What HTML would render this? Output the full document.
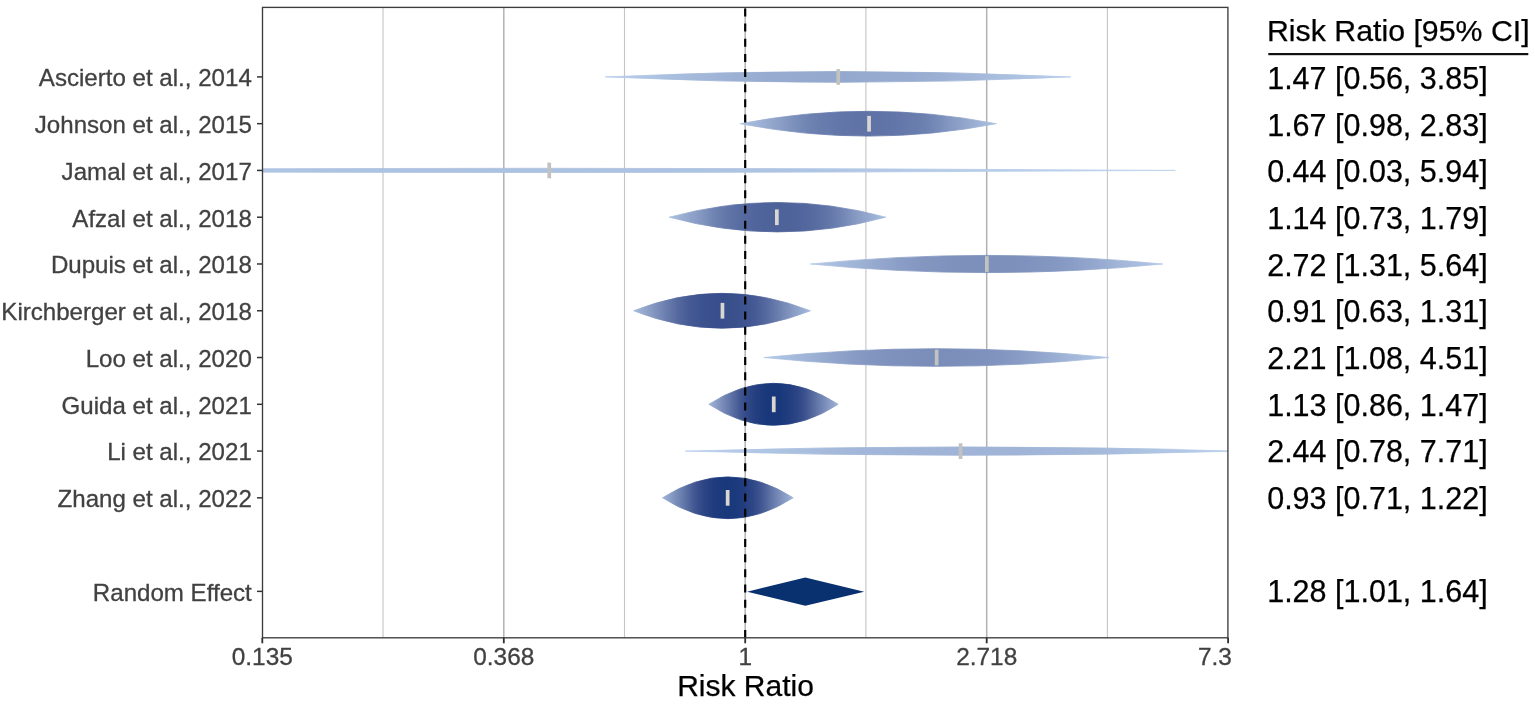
<!DOCTYPE html>
<html><head><meta charset="utf-8"><title>Forest plot</title>
<style>html,body{margin:0;padding:0;background:#fff;}svg{display:block;}text{font-family:"Liberation Sans",sans-serif;}</style></head><body>
<svg width="1535" height="705" viewBox="0 0 1535 705">
<rect width="1535" height="705" fill="#ffffff"/>
<defs>
<clipPath id="plot"><rect x="262.5" y="7.4" width="965.4000000000001" height="630.4"/></clipPath>
<linearGradient id="g0" gradientUnits="userSpaceOnUse" x1="605.2" y1="0" x2="1070.7" y2="0"><stop offset="0.0000" stop-color="#b8cfeb"/><stop offset="0.0312" stop-color="#b5cbe8"/><stop offset="0.0625" stop-color="#b2c8e6"/><stop offset="0.0938" stop-color="#afc5e3"/><stop offset="0.1250" stop-color="#acc1e1"/><stop offset="0.1562" stop-color="#a8bede"/><stop offset="0.1875" stop-color="#a5badb"/><stop offset="0.2188" stop-color="#a1b6d8"/><stop offset="0.2500" stop-color="#9eb3d6"/><stop offset="0.2812" stop-color="#9cb0d3"/><stop offset="0.3125" stop-color="#9aaed2"/><stop offset="0.3438" stop-color="#98acd2"/><stop offset="0.3750" stop-color="#97abd1"/><stop offset="0.4062" stop-color="#96aad0"/><stop offset="0.4375" stop-color="#95aacf"/><stop offset="0.4688" stop-color="#95a9cf"/><stop offset="0.5000" stop-color="#95a9cf"/><stop offset="0.5312" stop-color="#95a9cf"/><stop offset="0.5625" stop-color="#95aacf"/><stop offset="0.5938" stop-color="#96aad0"/><stop offset="0.6250" stop-color="#97abd1"/><stop offset="0.6562" stop-color="#98acd2"/><stop offset="0.6875" stop-color="#9aaed2"/><stop offset="0.7188" stop-color="#9cb0d3"/><stop offset="0.7500" stop-color="#9eb3d6"/><stop offset="0.7812" stop-color="#a1b6d8"/><stop offset="0.8125" stop-color="#a5badb"/><stop offset="0.8438" stop-color="#a8bede"/><stop offset="0.8750" stop-color="#acc1e1"/><stop offset="0.9062" stop-color="#afc5e3"/><stop offset="0.9375" stop-color="#b2c8e6"/><stop offset="0.9688" stop-color="#b5cbe8"/><stop offset="1.0000" stop-color="#b8cfeb"/></linearGradient>
<linearGradient id="g1" gradientUnits="userSpaceOnUse" x1="740.3" y1="0" x2="996.4" y2="0"><stop offset="0.0000" stop-color="#aec3e2"/><stop offset="0.0312" stop-color="#a7bcdd"/><stop offset="0.0625" stop-color="#a0b5d7"/><stop offset="0.0938" stop-color="#99add1"/><stop offset="0.1250" stop-color="#92a6cc"/><stop offset="0.1562" stop-color="#8a9ec6"/><stop offset="0.1875" stop-color="#8296c0"/><stop offset="0.2188" stop-color="#7a8ebb"/><stop offset="0.2500" stop-color="#7387b5"/><stop offset="0.2812" stop-color="#6d81b1"/><stop offset="0.3125" stop-color="#697dad"/><stop offset="0.3438" stop-color="#667aac"/><stop offset="0.3750" stop-color="#6377aa"/><stop offset="0.4062" stop-color="#6175a8"/><stop offset="0.4375" stop-color="#6074a7"/><stop offset="0.4688" stop-color="#5f73a7"/><stop offset="0.5000" stop-color="#5f73a6"/><stop offset="0.5312" stop-color="#5f73a7"/><stop offset="0.5625" stop-color="#6074a7"/><stop offset="0.5938" stop-color="#6175a8"/><stop offset="0.6250" stop-color="#6377aa"/><stop offset="0.6562" stop-color="#667aac"/><stop offset="0.6875" stop-color="#697dad"/><stop offset="0.7188" stop-color="#6d81b1"/><stop offset="0.7500" stop-color="#7387b5"/><stop offset="0.7812" stop-color="#7a8ebb"/><stop offset="0.8125" stop-color="#8296c0"/><stop offset="0.8438" stop-color="#8a9ec6"/><stop offset="0.8750" stop-color="#92a6cc"/><stop offset="0.9062" stop-color="#99add1"/><stop offset="0.9375" stop-color="#a0b5d7"/><stop offset="0.9688" stop-color="#a7bcdd"/><stop offset="1.0000" stop-color="#aec3e2"/></linearGradient>
<linearGradient id="g2" gradientUnits="userSpaceOnUse" x1="-101.5" y1="0" x2="1175.4" y2="0"><stop offset="0.0000" stop-color="#bdd4ef"/><stop offset="0.0312" stop-color="#bcd2ee"/><stop offset="0.0625" stop-color="#bad1ec"/><stop offset="0.0938" stop-color="#b9cfeb"/><stop offset="0.1250" stop-color="#b7cdea"/><stop offset="0.1562" stop-color="#b6cce9"/><stop offset="0.1875" stop-color="#b4cae7"/><stop offset="0.2188" stop-color="#b2c8e6"/><stop offset="0.2500" stop-color="#b1c7e5"/><stop offset="0.2812" stop-color="#afc5e4"/><stop offset="0.3125" stop-color="#afc4e3"/><stop offset="0.3438" stop-color="#aec3e2"/><stop offset="0.3750" stop-color="#adc3e2"/><stop offset="0.4062" stop-color="#adc2e2"/><stop offset="0.4375" stop-color="#adc2e1"/><stop offset="0.4688" stop-color="#acc2e1"/><stop offset="0.5000" stop-color="#acc2e1"/><stop offset="0.5312" stop-color="#acc2e1"/><stop offset="0.5625" stop-color="#adc2e1"/><stop offset="0.5938" stop-color="#adc2e2"/><stop offset="0.6250" stop-color="#adc3e2"/><stop offset="0.6562" stop-color="#aec3e2"/><stop offset="0.6875" stop-color="#afc4e3"/><stop offset="0.7188" stop-color="#afc5e4"/><stop offset="0.7500" stop-color="#b1c7e5"/><stop offset="0.7812" stop-color="#b2c8e6"/><stop offset="0.8125" stop-color="#b4cae7"/><stop offset="0.8438" stop-color="#b6cce9"/><stop offset="0.8750" stop-color="#b7cdea"/><stop offset="0.9062" stop-color="#b9cfeb"/><stop offset="0.9375" stop-color="#bad1ec"/><stop offset="0.9688" stop-color="#bcd2ee"/><stop offset="1.0000" stop-color="#bdd4ef"/></linearGradient>
<linearGradient id="g3" gradientUnits="userSpaceOnUse" x1="669.2" y1="0" x2="885.8" y2="0"><stop offset="0.0000" stop-color="#aac0df"/><stop offset="0.0312" stop-color="#a2b7d9"/><stop offset="0.0625" stop-color="#9aaed2"/><stop offset="0.0938" stop-color="#91a5cc"/><stop offset="0.1250" stop-color="#899dc6"/><stop offset="0.1562" stop-color="#8094be"/><stop offset="0.1875" stop-color="#768ab8"/><stop offset="0.2188" stop-color="#6d81b1"/><stop offset="0.2500" stop-color="#6579ab"/><stop offset="0.2812" stop-color="#5f73a6"/><stop offset="0.3125" stop-color="#596ea2"/><stop offset="0.3438" stop-color="#566a9f"/><stop offset="0.3750" stop-color="#53679e"/><stop offset="0.4062" stop-color="#50659c"/><stop offset="0.4375" stop-color="#4f639b"/><stop offset="0.4688" stop-color="#4e639a"/><stop offset="0.5000" stop-color="#4e629a"/><stop offset="0.5312" stop-color="#4e639a"/><stop offset="0.5625" stop-color="#4f639b"/><stop offset="0.5938" stop-color="#50659c"/><stop offset="0.6250" stop-color="#53679e"/><stop offset="0.6562" stop-color="#566a9f"/><stop offset="0.6875" stop-color="#596ea2"/><stop offset="0.7188" stop-color="#5f73a6"/><stop offset="0.7500" stop-color="#6579ab"/><stop offset="0.7812" stop-color="#6d81b1"/><stop offset="0.8125" stop-color="#768ab8"/><stop offset="0.8438" stop-color="#8094be"/><stop offset="0.8750" stop-color="#899dc6"/><stop offset="0.9062" stop-color="#91a5cc"/><stop offset="0.9375" stop-color="#9aaed2"/><stop offset="0.9688" stop-color="#a2b7d9"/><stop offset="1.0000" stop-color="#aac0df"/></linearGradient>
<linearGradient id="g4" gradientUnits="userSpaceOnUse" x1="810.4" y1="0" x2="1162.9" y2="0"><stop offset="0.0000" stop-color="#b4cae7"/><stop offset="0.0312" stop-color="#afc4e3"/><stop offset="0.0625" stop-color="#aabfdf"/><stop offset="0.0938" stop-color="#a5badb"/><stop offset="0.1250" stop-color="#a0b5d7"/><stop offset="0.1562" stop-color="#9bafd3"/><stop offset="0.1875" stop-color="#95a9cf"/><stop offset="0.2188" stop-color="#90a4cb"/><stop offset="0.2500" stop-color="#8b9ec7"/><stop offset="0.2812" stop-color="#879ac3"/><stop offset="0.3125" stop-color="#8497c1"/><stop offset="0.3438" stop-color="#8195bf"/><stop offset="0.3750" stop-color="#8093be"/><stop offset="0.4062" stop-color="#7e91bc"/><stop offset="0.4375" stop-color="#7d90bc"/><stop offset="0.4688" stop-color="#7d90bb"/><stop offset="0.5000" stop-color="#7c90bb"/><stop offset="0.5312" stop-color="#7d90bb"/><stop offset="0.5625" stop-color="#7d90bc"/><stop offset="0.5938" stop-color="#7e91bc"/><stop offset="0.6250" stop-color="#8093be"/><stop offset="0.6562" stop-color="#8195bf"/><stop offset="0.6875" stop-color="#8497c1"/><stop offset="0.7188" stop-color="#879ac3"/><stop offset="0.7500" stop-color="#8b9ec7"/><stop offset="0.7812" stop-color="#90a4cb"/><stop offset="0.8125" stop-color="#95a9cf"/><stop offset="0.8438" stop-color="#9bafd3"/><stop offset="0.8750" stop-color="#a0b5d7"/><stop offset="0.9062" stop-color="#a5badb"/><stop offset="0.9375" stop-color="#aabfdf"/><stop offset="0.9688" stop-color="#afc4e3"/><stop offset="1.0000" stop-color="#b4cae7"/></linearGradient>
<linearGradient id="g5" gradientUnits="userSpaceOnUse" x1="633.6" y1="0" x2="810.4" y2="0"><stop offset="0.0000" stop-color="#a6bbdc"/><stop offset="0.0312" stop-color="#9cb1d4"/><stop offset="0.0625" stop-color="#93a7cd"/><stop offset="0.0938" stop-color="#899dc5"/><stop offset="0.1250" stop-color="#7f92bd"/><stop offset="0.1562" stop-color="#7488b6"/><stop offset="0.1875" stop-color="#697dad"/><stop offset="0.2188" stop-color="#5f73a6"/><stop offset="0.2500" stop-color="#5569a0"/><stop offset="0.2812" stop-color="#4d6299"/><stop offset="0.3125" stop-color="#465b96"/><stop offset="0.3438" stop-color="#425792"/><stop offset="0.3750" stop-color="#3e5490"/><stop offset="0.4062" stop-color="#3b518d"/><stop offset="0.4375" stop-color="#39508c"/><stop offset="0.4688" stop-color="#384f8d"/><stop offset="0.5000" stop-color="#384e8c"/><stop offset="0.5312" stop-color="#384f8d"/><stop offset="0.5625" stop-color="#39508c"/><stop offset="0.5938" stop-color="#3b518d"/><stop offset="0.6250" stop-color="#3e5490"/><stop offset="0.6562" stop-color="#425792"/><stop offset="0.6875" stop-color="#465b96"/><stop offset="0.7188" stop-color="#4d6299"/><stop offset="0.7500" stop-color="#5569a0"/><stop offset="0.7812" stop-color="#5f73a6"/><stop offset="0.8125" stop-color="#697dad"/><stop offset="0.8438" stop-color="#7488b6"/><stop offset="0.8750" stop-color="#7f92bd"/><stop offset="0.9062" stop-color="#899dc5"/><stop offset="0.9375" stop-color="#93a7cd"/><stop offset="0.9688" stop-color="#9cb1d4"/><stop offset="1.0000" stop-color="#a6bbdc"/></linearGradient>
<linearGradient id="g6" gradientUnits="userSpaceOnUse" x1="763.8" y1="0" x2="1108.9" y2="0"><stop offset="0.0000" stop-color="#b3c9e7"/><stop offset="0.0312" stop-color="#aec4e3"/><stop offset="0.0625" stop-color="#a9bfdf"/><stop offset="0.0938" stop-color="#a4b9da"/><stop offset="0.1250" stop-color="#9fb4d6"/><stop offset="0.1562" stop-color="#9aaed2"/><stop offset="0.1875" stop-color="#94a8ce"/><stop offset="0.2188" stop-color="#8fa2ca"/><stop offset="0.2500" stop-color="#899dc6"/><stop offset="0.2812" stop-color="#8599c2"/><stop offset="0.3125" stop-color="#8295c0"/><stop offset="0.3438" stop-color="#8093be"/><stop offset="0.3750" stop-color="#7e91bc"/><stop offset="0.4062" stop-color="#7c90bb"/><stop offset="0.4375" stop-color="#7c8fba"/><stop offset="0.4688" stop-color="#7b8eba"/><stop offset="0.5000" stop-color="#7a8ebb"/><stop offset="0.5312" stop-color="#7b8eba"/><stop offset="0.5625" stop-color="#7c8fba"/><stop offset="0.5938" stop-color="#7c90bb"/><stop offset="0.6250" stop-color="#7e91bc"/><stop offset="0.6562" stop-color="#8093be"/><stop offset="0.6875" stop-color="#8295c0"/><stop offset="0.7188" stop-color="#8599c2"/><stop offset="0.7500" stop-color="#899dc6"/><stop offset="0.7812" stop-color="#8fa2ca"/><stop offset="0.8125" stop-color="#94a8ce"/><stop offset="0.8438" stop-color="#9aaed2"/><stop offset="0.8750" stop-color="#9fb4d6"/><stop offset="0.9062" stop-color="#a4b9da"/><stop offset="0.9375" stop-color="#a9bfdf"/><stop offset="0.9688" stop-color="#aec4e3"/><stop offset="1.0000" stop-color="#b3c9e7"/></linearGradient>
<linearGradient id="g7" gradientUnits="userSpaceOnUse" x1="708.8" y1="0" x2="838.2" y2="0"><stop offset="0.0000" stop-color="#a1b5d8"/><stop offset="0.0312" stop-color="#95a9cf"/><stop offset="0.0625" stop-color="#899dc6"/><stop offset="0.0938" stop-color="#7e91bc"/><stop offset="0.1250" stop-color="#7185b4"/><stop offset="0.1562" stop-color="#6579ab"/><stop offset="0.1875" stop-color="#586ca1"/><stop offset="0.2188" stop-color="#4c6198"/><stop offset="0.2500" stop-color="#3f5591"/><stop offset="0.2812" stop-color="#354c8a"/><stop offset="0.3125" stop-color="#2d4685"/><stop offset="0.3438" stop-color="#274182"/><stop offset="0.3750" stop-color="#223e7f"/><stop offset="0.4062" stop-color="#1d3b7d"/><stop offset="0.4375" stop-color="#1a397c"/><stop offset="0.4688" stop-color="#19387b"/><stop offset="0.5000" stop-color="#18387b"/><stop offset="0.5312" stop-color="#19387b"/><stop offset="0.5625" stop-color="#1a397c"/><stop offset="0.5938" stop-color="#1d3b7d"/><stop offset="0.6250" stop-color="#223e7f"/><stop offset="0.6562" stop-color="#274182"/><stop offset="0.6875" stop-color="#2d4685"/><stop offset="0.7188" stop-color="#354c8a"/><stop offset="0.7500" stop-color="#3f5591"/><stop offset="0.7812" stop-color="#4c6198"/><stop offset="0.8125" stop-color="#586ca1"/><stop offset="0.8438" stop-color="#6579ab"/><stop offset="0.8750" stop-color="#7185b4"/><stop offset="0.9062" stop-color="#7e91bc"/><stop offset="0.9375" stop-color="#899dc6"/><stop offset="0.9688" stop-color="#95a9cf"/><stop offset="1.0000" stop-color="#a1b5d8"/></linearGradient>
<linearGradient id="g8" gradientUnits="userSpaceOnUse" x1="685.2" y1="0" x2="1238.4" y2="0"><stop offset="0.0000" stop-color="#bad1ed"/><stop offset="0.0312" stop-color="#b8ceeb"/><stop offset="0.0625" stop-color="#b6cce9"/><stop offset="0.0938" stop-color="#b3c9e7"/><stop offset="0.1250" stop-color="#b1c6e5"/><stop offset="0.1562" stop-color="#aec4e3"/><stop offset="0.1875" stop-color="#abc1e0"/><stop offset="0.2188" stop-color="#a9bede"/><stop offset="0.2500" stop-color="#a6bbdc"/><stop offset="0.2812" stop-color="#a4b9da"/><stop offset="0.3125" stop-color="#a2b7d9"/><stop offset="0.3438" stop-color="#a1b6d8"/><stop offset="0.3750" stop-color="#a0b5d7"/><stop offset="0.4062" stop-color="#a0b4d7"/><stop offset="0.4375" stop-color="#9fb4d6"/><stop offset="0.4688" stop-color="#9fb4d6"/><stop offset="0.5000" stop-color="#9fb4d6"/><stop offset="0.5312" stop-color="#9fb4d6"/><stop offset="0.5625" stop-color="#9fb4d6"/><stop offset="0.5938" stop-color="#a0b4d7"/><stop offset="0.6250" stop-color="#a0b5d7"/><stop offset="0.6562" stop-color="#a1b6d8"/><stop offset="0.6875" stop-color="#a2b7d9"/><stop offset="0.7188" stop-color="#a4b9da"/><stop offset="0.7500" stop-color="#a6bbdc"/><stop offset="0.7812" stop-color="#a9bede"/><stop offset="0.8125" stop-color="#abc1e0"/><stop offset="0.8438" stop-color="#aec4e3"/><stop offset="0.8750" stop-color="#b1c6e5"/><stop offset="0.9062" stop-color="#b3c9e7"/><stop offset="0.9375" stop-color="#b6cce9"/><stop offset="0.9688" stop-color="#b8ceeb"/><stop offset="1.0000" stop-color="#bad1ed"/></linearGradient>
<linearGradient id="g9" gradientUnits="userSpaceOnUse" x1="662.5" y1="0" x2="793.2" y2="0"><stop offset="0.0000" stop-color="#a1b6d8"/><stop offset="0.0312" stop-color="#95a9cf"/><stop offset="0.0625" stop-color="#8a9dc6"/><stop offset="0.0938" stop-color="#7e91bd"/><stop offset="0.1250" stop-color="#7286b4"/><stop offset="0.1562" stop-color="#6579ac"/><stop offset="0.1875" stop-color="#586da1"/><stop offset="0.2188" stop-color="#4c6199"/><stop offset="0.2500" stop-color="#405591"/><stop offset="0.2812" stop-color="#364d8b"/><stop offset="0.3125" stop-color="#2e4685"/><stop offset="0.3438" stop-color="#284283"/><stop offset="0.3750" stop-color="#233e7f"/><stop offset="0.4062" stop-color="#1e3b7e"/><stop offset="0.4375" stop-color="#1b3a7c"/><stop offset="0.4688" stop-color="#1a397c"/><stop offset="0.5000" stop-color="#19387b"/><stop offset="0.5312" stop-color="#1a397c"/><stop offset="0.5625" stop-color="#1b3a7c"/><stop offset="0.5938" stop-color="#1e3b7e"/><stop offset="0.6250" stop-color="#233e7f"/><stop offset="0.6562" stop-color="#284283"/><stop offset="0.6875" stop-color="#2e4685"/><stop offset="0.7188" stop-color="#364d8b"/><stop offset="0.7500" stop-color="#405591"/><stop offset="0.7812" stop-color="#4c6199"/><stop offset="0.8125" stop-color="#586da1"/><stop offset="0.8438" stop-color="#6579ac"/><stop offset="0.8750" stop-color="#7286b4"/><stop offset="0.9062" stop-color="#7e91bd"/><stop offset="0.9375" stop-color="#8a9dc6"/><stop offset="0.9688" stop-color="#95a9cf"/><stop offset="1.0000" stop-color="#a1b6d8"/></linearGradient>
</defs>
<line x1="383.0" y1="7.4" x2="383.0" y2="637.8" stroke="#c4c4c4" stroke-width="1.1"/>
<line x1="503.8" y1="7.4" x2="503.8" y2="637.8" stroke="#b2b2b2" stroke-width="1.5"/>
<line x1="624.5" y1="7.4" x2="624.5" y2="637.8" stroke="#c4c4c4" stroke-width="1.1"/>
<line x1="745.2" y1="7.4" x2="745.2" y2="637.8" stroke="#b2b2b2" stroke-width="1.5"/>
<line x1="865.9" y1="7.4" x2="865.9" y2="637.8" stroke="#c4c4c4" stroke-width="1.1"/>
<line x1="986.7" y1="7.4" x2="986.7" y2="637.8" stroke="#b2b2b2" stroke-width="1.5"/>
<line x1="1107.4" y1="7.4" x2="1107.4" y2="637.8" stroke="#c4c4c4" stroke-width="1.1"/>
<g clip-path="url(#plot)">
<path d="M605.2 76.9 Q837.9 66.0 1070.7 76.9 Q837.9 87.8 605.2 76.9Z" fill="url(#g0)" stroke="url(#g0)" stroke-width="0.8" stroke-linejoin="round"/>
<rect x="836.4" y="69.1" width="3.7" height="15.7" fill="#c2c2c0"/>
<path d="M740.3 123.7 Q868.3 98.9 996.4 123.7 Q868.3 148.5 740.3 123.7Z" fill="url(#g1)" stroke="url(#g1)" stroke-width="0.8" stroke-linejoin="round"/>
<rect x="867.2" y="115.9" width="3.7" height="15.7" fill="#d8d6d1"/>
<path d="M-101.5 170.4 Q537.0 166.1 1175.4 170.4 Q537.0 174.7 -101.5 170.4Z" fill="url(#g2)" stroke="url(#g2)" stroke-width="0.8" stroke-linejoin="round"/>
<rect x="547.4" y="162.6" width="3.7" height="15.7" fill="#c2c2c0"/>
<path d="M669.2 217.2 Q777.5 187.8 885.8 217.2 Q777.5 246.6 669.2 217.2Z" fill="url(#g3)" stroke="url(#g3)" stroke-width="0.8" stroke-linejoin="round"/>
<rect x="775.0" y="209.4" width="3.7" height="15.7" fill="#d8d6d1"/>
<path d="M810.4 264.0 Q986.6 246.8 1162.9 264.0 Q986.6 281.2 810.4 264.0Z" fill="url(#g4)" stroke="url(#g4)" stroke-width="0.8" stroke-linejoin="round"/>
<rect x="985.0" y="256.2" width="3.7" height="15.7" fill="#c2c2c0"/>
<path d="M633.6 310.8 Q722.0 275.9 810.4 310.8 Q722.0 345.6 633.6 310.8Z" fill="url(#g5)" stroke="url(#g5)" stroke-width="0.8" stroke-linejoin="round"/>
<rect x="720.6" y="302.9" width="3.7" height="15.7" fill="#d8d6d1"/>
<path d="M763.8 357.5 Q936.3 339.9 1108.9 357.5 Q936.3 375.2 763.8 357.5Z" fill="url(#g6)" stroke="url(#g6)" stroke-width="0.8" stroke-linejoin="round"/>
<rect x="934.8" y="349.7" width="3.7" height="15.7" fill="#c2c2c0"/>
<path d="M708.8 404.3 Q773.5 362.3 838.2 404.3 Q773.5 446.3 708.8 404.3Z" fill="url(#g7)" stroke="url(#g7)" stroke-width="0.8" stroke-linejoin="round"/>
<rect x="771.9" y="396.5" width="3.7" height="15.7" fill="#d8d6d1"/>
<path d="M685.2 451.1 Q961.8 442.7 1238.4 451.1 Q961.8 459.5 685.2 451.1Z" fill="url(#g8)" stroke="url(#g8)" stroke-width="0.8" stroke-linejoin="round"/>
<rect x="958.7" y="443.3" width="3.7" height="15.7" fill="#c2c2c0"/>
<path d="M662.5 497.8 Q727.9 456.0 793.2 497.8 Q727.9 539.6 662.5 497.8Z" fill="url(#g9)" stroke="url(#g9)" stroke-width="0.8" stroke-linejoin="round"/>
<rect x="725.8" y="490.0" width="3.7" height="15.7" fill="#d8d6d1"/>
</g>
<line x1="745.2" y1="8.4" x2="745.2" y2="637.8" stroke="#000" stroke-width="2.2" stroke-dasharray="8 7.16"/>
<polygon points="747.1,591.7 805.3,577.6 864.2,591.7 805.3,605.8000000000001" fill="#09306f"/>
<rect x="262.5" y="7.4" width="965.4000000000001" height="630.4" fill="none" stroke="#3d3d3d" stroke-width="1.35"/>
<line x1="257.0" y1="76.9" x2="262.5" y2="76.9" stroke="#333" stroke-width="1.5"/>
<text x="251.8" y="86.2" font-size="24.1" fill="#414141" stroke="#414141" stroke-width="0.3" text-anchor="end">Ascierto et al., 2014</text>
<line x1="257.0" y1="123.67000000000002" x2="262.5" y2="123.67000000000002" stroke="#333" stroke-width="1.5"/>
<text x="251.8" y="133.0" font-size="24.1" fill="#414141" stroke="#414141" stroke-width="0.3" text-anchor="end">Johnson et al., 2015</text>
<line x1="257.0" y1="170.44" x2="262.5" y2="170.44" stroke="#333" stroke-width="1.5"/>
<text x="251.8" y="179.7" font-size="24.1" fill="#414141" stroke="#414141" stroke-width="0.3" text-anchor="end">Jamal et al., 2017</text>
<line x1="257.0" y1="217.21" x2="262.5" y2="217.21" stroke="#333" stroke-width="1.5"/>
<text x="251.8" y="226.5" font-size="24.1" fill="#414141" stroke="#414141" stroke-width="0.3" text-anchor="end">Afzal et al., 2018</text>
<line x1="257.0" y1="263.98" x2="262.5" y2="263.98" stroke="#333" stroke-width="1.5"/>
<text x="251.8" y="273.3" font-size="24.1" fill="#414141" stroke="#414141" stroke-width="0.3" text-anchor="end">Dupuis et al., 2018</text>
<line x1="257.0" y1="310.75" x2="262.5" y2="310.75" stroke="#333" stroke-width="1.5"/>
<text x="251.8" y="320.1" font-size="24.1" fill="#414141" stroke="#414141" stroke-width="0.3" text-anchor="end">Kirchberger et al., 2018</text>
<line x1="257.0" y1="357.52" x2="262.5" y2="357.52" stroke="#333" stroke-width="1.5"/>
<text x="251.8" y="366.8" font-size="24.1" fill="#414141" stroke="#414141" stroke-width="0.3" text-anchor="end">Loo et al., 2020</text>
<line x1="257.0" y1="404.2900000000001" x2="262.5" y2="404.2900000000001" stroke="#333" stroke-width="1.5"/>
<text x="251.8" y="413.6" font-size="24.1" fill="#414141" stroke="#414141" stroke-width="0.3" text-anchor="end">Guida et al., 2021</text>
<line x1="257.0" y1="451.06000000000006" x2="262.5" y2="451.06000000000006" stroke="#333" stroke-width="1.5"/>
<text x="251.8" y="460.4" font-size="24.1" fill="#414141" stroke="#414141" stroke-width="0.3" text-anchor="end">Li et al., 2021</text>
<line x1="257.0" y1="497.83000000000004" x2="262.5" y2="497.83000000000004" stroke="#333" stroke-width="1.5"/>
<text x="251.8" y="507.1" font-size="24.1" fill="#414141" stroke="#414141" stroke-width="0.3" text-anchor="end">Zhang et al., 2022</text>
<line x1="257.0" y1="591.37" x2="262.5" y2="591.37" stroke="#333" stroke-width="1.5"/>
<text x="251.8" y="600.7" font-size="24.1" fill="#414141" stroke="#414141" stroke-width="0.3" text-anchor="end">Random Effect</text>
<line x1="262.3" y1="637.8" x2="262.3" y2="643.3" stroke="#2e2e2e" stroke-width="1.8"/>
<text x="262.3" y="664.8" font-size="24.4" fill="#414141" stroke="#414141" stroke-width="0.3" text-anchor="middle">0.135</text>
<line x1="503.8" y1="637.8" x2="503.8" y2="643.3" stroke="#2e2e2e" stroke-width="1.8"/>
<text x="503.8" y="664.8" font-size="24.4" fill="#414141" stroke="#414141" stroke-width="0.3" text-anchor="middle">0.368</text>
<line x1="745.2" y1="637.8" x2="745.2" y2="643.3" stroke="#2e2e2e" stroke-width="1.8"/>
<text x="745.2" y="664.8" font-size="24.4" fill="#414141" stroke="#414141" stroke-width="0.3" text-anchor="middle">1</text>
<line x1="986.7" y1="637.8" x2="986.7" y2="643.3" stroke="#2e2e2e" stroke-width="1.8"/>
<text x="986.7" y="664.8" font-size="24.4" fill="#414141" stroke="#414141" stroke-width="0.3" text-anchor="middle">2.718</text>
<line x1="1228.1" y1="637.8" x2="1228.1" y2="643.3" stroke="#2e2e2e" stroke-width="1.8"/>
<text x="1198" y="664.8" font-size="24.4" fill="#414141" stroke="#414141" stroke-width="0.3">7.3</text>
<text x="745.5" y="696" font-size="30" fill="#000" stroke="#000" stroke-width="0.25" text-anchor="middle">Risk Ratio</text>
<text x="1267.0" y="41.2" font-size="29.5" textLength="262.6" lengthAdjust="spacingAndGlyphs" fill="#000" stroke="#000" stroke-width="0.25">Risk Ratio [95% CI]</text>
<rect x="1268.3" y="53.0" width="260" height="2.2" fill="#111"/>
<text x="1267.2" y="88.8" font-size="30.5" fill="#000" stroke="#000" stroke-width="0.25">1.47 [0.56, 3.85]</text>
<text x="1267.2" y="135.5" font-size="30.5" fill="#000" stroke="#000" stroke-width="0.25">1.67 [0.98, 2.83]</text>
<text x="1267.2" y="182.2" font-size="30.5" fill="#000" stroke="#000" stroke-width="0.25">0.44 [0.03, 5.94]</text>
<text x="1267.2" y="228.9" font-size="30.5" fill="#000" stroke="#000" stroke-width="0.25">1.14 [0.73, 1.79]</text>
<text x="1267.2" y="275.6" font-size="30.5" fill="#000" stroke="#000" stroke-width="0.25">2.72 [1.31, 5.64]</text>
<text x="1267.2" y="322.2" font-size="30.5" fill="#000" stroke="#000" stroke-width="0.25">0.91 [0.63, 1.31]</text>
<text x="1267.2" y="368.9" font-size="30.5" fill="#000" stroke="#000" stroke-width="0.25">2.21 [1.08, 4.51]</text>
<text x="1267.2" y="415.6" font-size="30.5" fill="#000" stroke="#000" stroke-width="0.25">1.13 [0.86, 1.47]</text>
<text x="1267.2" y="462.3" font-size="30.5" fill="#000" stroke="#000" stroke-width="0.25">2.44 [0.78, 7.71]</text>
<text x="1267.2" y="509.0" font-size="30.5" fill="#000" stroke="#000" stroke-width="0.25">0.93 [0.71, 1.22]</text>
<text x="1267.2" y="602.4" font-size="30.5" fill="#000" stroke="#000" stroke-width="0.25">1.28 [1.01, 1.64]</text>
</svg></body></html>
